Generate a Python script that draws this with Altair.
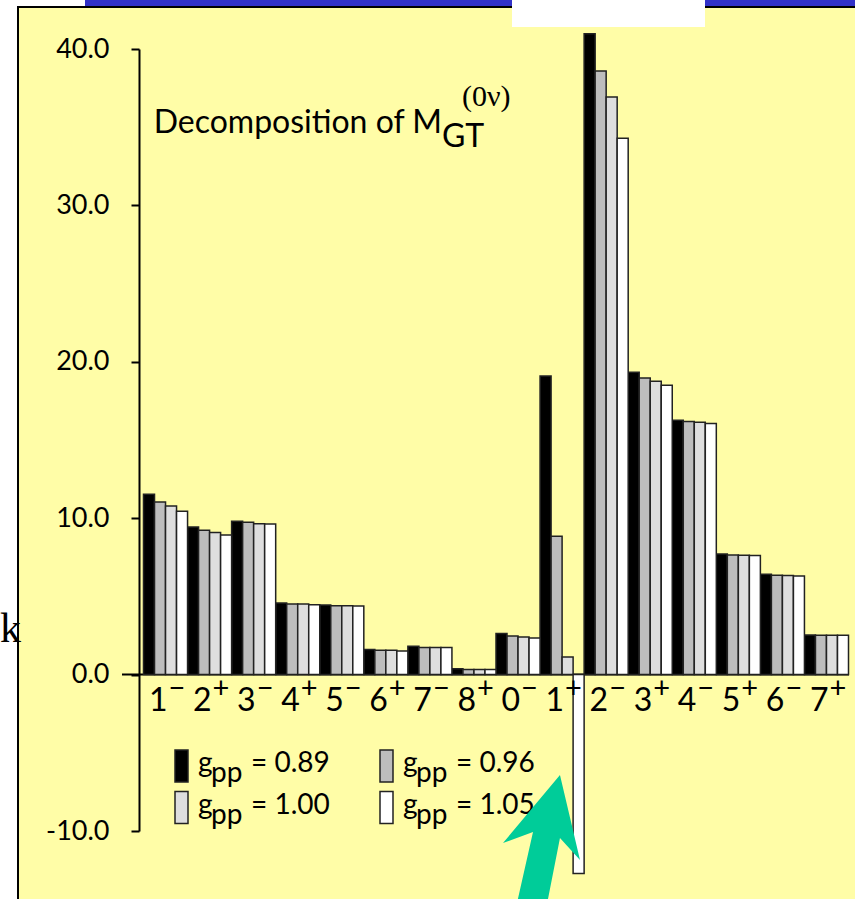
import altair as alt
import pandas as pd

# Multipole channels J^pi of the intermediate states
spins = ["1", "2", "3", "4", "5", "6", "7", "8", "0", "1", "2", "3", "4", "5", "6", "7"]
parities = ["−", "+", "−", "+", "−", "+", "−", "+", "−", "+", "−", "+", "−", "+", "−", "+"]

# g_pp values of the four calculations
gpp_values = ["0.89", "0.96", "1.00", "1.05"]

# Contribution of each multipole to M_GT(0nu), one list per g_pp
m_gt_089 = [11.53, 9.44, 9.80, 4.58, 4.45, 1.60, 1.81, 0.38, 2.62, 19.09, 40.98, 19.33, 16.26, 7.71, 6.41, 2.53]
m_gt_096 = [11.04, 9.23, 9.74, 4.51, 4.41, 1.55, 1.73, 0.32, 2.47, 8.84, 38.60, 18.97, 16.18, 7.65, 6.35, 2.51]
m_gt_100 = [10.78, 9.08, 9.65, 4.51, 4.41, 1.55, 1.73, 0.32, 2.40, 1.13, 36.93, 18.75, 16.13, 7.63, 6.33, 2.51]
m_gt_105 = [10.44, 8.93, 9.63, 4.47, 4.39, 1.51, 1.73, 0.32, 2.34, -12.72, 34.30, 18.50, 16.05, 7.61, 6.31, 2.51]

y_ticks = [-10, 0, 10, 20, 30, 40]
bar_colors = ["#000000", "#bdbdbd", "#dedede", "#ffffff"]

categories = [s + p for s, p in zip(spins, parities)]
rows = []
for g, vals in zip(gpp_values, [m_gt_089, m_gt_096, m_gt_100, m_gt_105]):
    for c, v in zip(categories, vals):
        rows.append({"multipole": c, "gpp": g, "m": v})
bars_df = pd.DataFrame(rows)
labels_df = pd.DataFrame({"multipole": categories, "spin": spins, "parity": parities})
one = pd.DataFrame({"k": [0]})

W, H = 714, 782
OX, OY = 139, 49  # plot origin inside the page
SANS = "Lato"
SERIF = "Liberation Serif"
YELLOW = "#fffda7"
EDGE = "#222222"

x_scale = alt.Scale(domain=categories, paddingInner=0, paddingOuter=0.102)
y_scale = alt.Scale(domain=[-10, 40], nice=False, zero=False)
x_enc = alt.X("multipole:N", scale=x_scale, sort=categories, axis=None)


def panel(x0, x1, y0, y1, color, stroke=None):
    mark = dict(fill=color, opacity=1)
    if stroke:
        mark.update(stroke=stroke, strokeWidth=1.5)
    else:
        mark.update(strokeWidth=0)
    return alt.Chart(one).mark_rect(**mark).encode(
        x=alt.value(x0 - OX), x2=alt.value(x1 - OX),
        y=alt.value(y0 - OY), y2=alt.value(y1 - OY),
    )


def note(text, x, y, size, font=SANS, align="left"):
    return alt.Chart(one).mark_text(
        text=text, font=font, fontSize=size, align=align,
        baseline="alphabetic", color="black",
    ).encode(x=alt.value(x - OX), y=alt.value(y - OY))


# slide frame around the plot
frame = [
    panel(19, 855, 8, 899, YELLOW),
    note("k", 0, 642, 42, font=SERIF),
    panel(17, 19, 6, 899, "#000000"),
    panel(17, 855, 6, 8, "#000000"),
    panel(85, 855, 0, 6, "#3232c8"),
    panel(512, 705, 0, 27, "#ffffff"),
]

zero_line = alt.Chart(one).mark_rule(color="black", strokeWidth=2).encode(
    y=alt.datum(0, type="quantitative"),
    x=alt.value(-17), x2=alt.value(W - 4),
)

bars = alt.Chart(bars_df).mark_bar(stroke=EDGE, strokeWidth=1.5, opacity=1).encode(
    x=x_enc,
    xOffset=alt.XOffset("gpp:N", scale=alt.Scale(domain=gpp_values, paddingInner=0, paddingOuter=0)),
    y=alt.Y(
        "m:Q", scale=y_scale,
        axis=alt.Axis(
            values=y_ticks, title=None, grid=False, zindex=1,
            labelExpr="datum.value < 0 ? '-' + format(-datum.value, '.1f') : format(datum.value, '.1f')",
            labelFont=SANS, labelFontSize=27, labelColor="black", labelPadding=22,
            tickSize=8, tickWidth=2, tickColor="black",
            domainColor="black", domainWidth=2,
        ),
    ),
    color=alt.Color("gpp:N", scale=alt.Scale(domain=gpp_values, range=bar_colors), legend=None),
)

spin_text = alt.Chart(labels_df).mark_text(
    align="right", baseline="alphabetic", dx=2, dy=36,
    font=SANS, fontSize=32, color="black",
).encode(x=x_enc, y=alt.datum(0, type="quantitative"), text="spin:N")

parity_text = alt.Chart(labels_df).mark_text(
    align="left", baseline="middle", dx=3, dy=14,
    font=SANS, fontSize=29, color="black",
).encode(x=x_enc, y=alt.datum(0, type="quantitative"), text="parity:N")

title = [
    note("Decomposition of M", 442, 133.3, 32, align="right"),
    note("GT", 442, 146.7, 32),
    note("(0ν)", 462, 105.5, 30, font=SERIF),
]

# key: two columns, two rows of g_pp swatches
key = []
for i, (g, col) in enumerate(zip(gpp_values, bar_colors)):
    c, r = i % 2, i // 2
    x0 = 175 + 205 * c
    y0 = 750 + 41.5 * r
    key += [
        panel(x0, x0 + 13, y0, y0 + 32, col, stroke=EDGE),
        note("g", x0 + 23, y0 + 22, 28),
        note("pp", x0 + 36, y0 + 32, 28),
        note("= " + g, x0 + 76, y0 + 22, 28),
    ]

arrow_path = "M0.298,-1L0.621,0.371L0.298,0.016L0.095,1.05L-0.392,1.05L-0.137,-0.081L-0.621,0.097Z"
arrow = alt.Chart(one).mark_point(
    shape=arrow_path, size=15376, filled=True, fill="#00cc99", opacity=1, strokeWidth=0,
).encode(x=alt.value(541.5 - OX), y=alt.value(837 - OY))

chart = alt.layer(
    *frame, zero_line, bars, spin_text, parity_text, *title, *key, arrow
).properties(
    width=W, height=H,
    autosize=alt.AutoSizeParams(type="none"),
    padding={"left": OX, "top": OY, "right": 855 - OX - W, "bottom": 899 - OY - H},
    background="white",
).configure_view(stroke=None)

chart.save("out.html", embed_options={"renderer": "svg", "actions": False})
